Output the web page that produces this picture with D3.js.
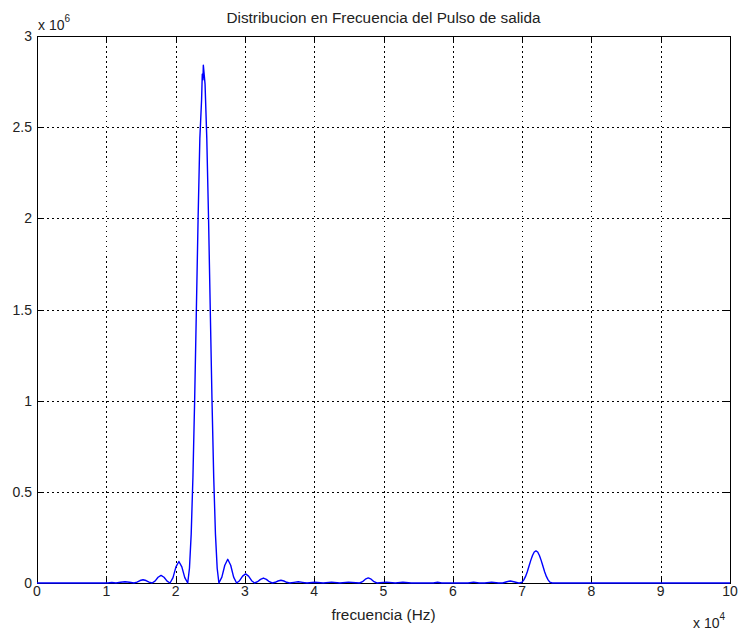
<!DOCTYPE html>
<html>
<head>
<meta charset="utf-8">
<title>Distribucion en Frecuencia del Pulso de salida</title>
<style>
  body { margin: 0; background: #fff; }
  svg { display: block; font-family: "Liberation Sans", Arial, sans-serif; }
  .grid line { stroke: #000; stroke-width: 1; stroke-dasharray: 1.5,3.5; shape-rendering: crispEdges; }
  .tick-in line { stroke: #000; stroke-width: 1; shape-rendering: crispEdges; }
  .tick-label { font-size: 14px; fill: #222; }
  .frame { fill: none; stroke: #000; stroke-width: 1; shape-rendering: crispEdges; }
  .curve { fill: none; stroke: #0000ff; stroke-width: 1.4; stroke-linejoin: round; }
</style>
</head>
<body>
<div id="chart"></div>
<script src="https://d3js.org/d3.v7.min.js"></script>
<script>
// frequency in units of 10^4 Hz, amplitude in units of 10^6
var freqs = [
  0, 1.02, 1.08, 1.14, 1.205, 1.27, 1.335, 1.40,
  1.443, 1.487, 1.53, 1.573, 1.617, 1.66,
  1.703, 1.747, 1.79, 1.833, 1.877, 1.92,
  1.9625, 2.005, 2.0475, 2.09, 2.1325, 2.175,
  2.2, 2.225, 2.25, 2.275, 2.3, 2.325, 2.35, 2.375, 2.385, 2.395, 2.4,
  2.425, 2.45, 2.475, 2.5, 2.525, 2.55, 2.575, 2.6, 2.625,
  2.6675, 2.71, 2.7525, 2.795, 2.8375, 2.88,
  2.923, 2.967, 3.01, 3.053, 3.097, 3.14,
  3.1825, 3.225, 3.2675, 3.31, 3.3525, 3.395,
  3.437, 3.478, 3.52, 3.562, 3.603, 3.645,
  3.708, 3.77, 3.832, 3.895,
  4.01, 4.13, 4.25, 4.37, 4.495, 4.655,
  4.697, 4.738, 4.78, 4.822, 4.863, 4.905,
  5.04, 5.17, 5.28, 5.40,
  5.72, 5.78, 5.84,
  6.22, 6.30, 6.38,
  6.46, 6.56, 6.66,
  6.72, 6.78, 6.83, 6.88, 6.95,
  6.965, 7.0, 7.025, 7.05, 7.075, 7.1, 7.125, 7.15, 7.175, 7.2,
  7.225, 7.25, 7.275, 7.3, 7.325, 7.35, 7.375, 7.4, 7.435,
  10
];
var amps = [
  0, 0, 0.003, 0, 0.004, 0.007, 0.004, 0,
  0.0045, 0.0135, 0.018, 0.0135, 0.0045, 0,
  0.0105, 0.0315, 0.042, 0.0315, 0.0105, 0,
  0.0295, 0.0885, 0.118, 0.0885, 0.0295, 0,
  0.081, 0.268, 0.58, 1.007, 1.503, 2.007, 2.44, 2.65, 2.79, 2.76, 2.84,
  2.736, 2.44, 2.007, 1.503, 1.007, 0.58, 0.268, 0.081, 0,
  0.0325, 0.0975, 0.13, 0.0975, 0.0325, 0,
  0.0125, 0.0375, 0.05, 0.0375, 0.0125, 0,
  0.007, 0.02, 0.027, 0.02, 0.007, 0,
  0.004, 0.011, 0.015, 0.011, 0.004, 0,
  0.0035, 0.007, 0.0035, 0,
  0.004, 0, 0.005, 0, 0.005, 0,
  0.007, 0.021, 0.028, 0.021, 0.007, 0,
  0.005, 0, 0.004, 0,
  0, 0.004, 0,
  0, 0.005, 0,
  0, 0.005, 0,
  0, 0.007, 0.011, 0.007, 0,
  0, 0.005, 0.017, 0.036, 0.062, 0.093, 0.124, 0.151, 0.170, 0.176,
  0.170, 0.151, 0.124, 0.093, 0.062, 0.036, 0.017, 0.005, 0,
  0
];
var xTicks = [0, 1, 2, 3, 4, 5, 6, 7, 8, 9, 10];
var yTicks = [0, 0.5, 1, 1.5, 2, 2.5, 3];
var yTickLabels = ["0", "0.5", "1", "1.5", "2", "2.5", "3"];

var W = 740, H = 634;
var margin = { top: 36, right: 10, bottom: 51, left: 37 };
var width = W - margin.left - margin.right;
var height = H - margin.top - margin.bottom;

var svg = d3.select("#chart").append("svg")
  .attr("width", W)
  .attr("height", H);

var g = svg.append("g")
  .attr("transform", "translate(" + margin.left + "," + margin.top + ")");

var x = d3.scaleLinear().domain([0, 10]).range([0, width]);
var y = d3.scaleLinear().domain([0, 3]).range([height, 0]);

// dotted grid
var grid = g.append("g").attr("class", "grid");
grid.selectAll(".vg")
  .data(xTicks.slice(1, -1))
  .enter().append("line")
  .attr("x1", function(d) { return Math.round(x(d)) + 0.5; })
  .attr("x2", function(d) { return Math.round(x(d)) + 0.5; })
  .attr("y1", 0).attr("y2", height);
grid.selectAll(".hg")
  .data(yTicks.slice(1, -1))
  .enter().append("line")
  .attr("y1", function(d) { return Math.round(y(d)) + 0.5; })
  .attr("y2", function(d) { return Math.round(y(d)) + 0.5; })
  .attr("x1", 0).attr("x2", width);

// inward ticks on all four sides
var tk = 7;
var ticks = g.append("g").attr("class", "tick-in");
xTicks.forEach(function(d) {
  var px = Math.round(x(d)) + 0.5;
  ticks.append("line").attr("x1", px).attr("x2", px).attr("y1", height).attr("y2", height - tk);
  ticks.append("line").attr("x1", px).attr("x2", px).attr("y1", 0).attr("y2", tk);
});
yTicks.forEach(function(d) {
  var py = Math.round(y(d)) + 0.5;
  ticks.append("line").attr("y1", py).attr("y2", py).attr("x1", 0).attr("x2", tk);
  ticks.append("line").attr("y1", py).attr("y2", py).attr("x1", width).attr("x2", width - tk);
});

// frame
g.append("rect").attr("class", "frame")
  .attr("x", 0.5).attr("y", 0.5)
  .attr("width", Math.round(width)).attr("height", Math.round(height));

// tick labels
g.selectAll(".xl")
  .data(xTicks)
  .enter().append("text")
  .attr("class", "tick-label")
  .attr("x", function(d) { return x(d); })
  .attr("y", height + 13)
  .attr("text-anchor", "middle")
  .text(function(d) { return d; });

g.selectAll(".yl")
  .data(yTicks)
  .enter().append("text")
  .attr("class", "tick-label")
  .attr("x", -5)
  .attr("y", function(d) { return y(d) + 5; })
  .attr("text-anchor", "end")
  .text(function(d, i) { return yTickLabels[i]; });

// exponent labels
var ey = g.append("text").attr("class", "tick-label").attr("x", 1).attr("y", -6);
ey.append("tspan").text("x 10");
ey.append("tspan").attr("dy", -8).attr("font-size", 10).text("6");

var ex = g.append("text").attr("class", "tick-label").attr("x", width - 37).attr("y", height + 45);
ex.append("tspan").text("x 10");
ex.append("tspan").attr("dy", -8).attr("font-size", 10).text("4");

// curve
var pts = freqs.map(function(f, i) { return [f, amps[i]]; });
var line = d3.line()
  .x(function(d) { return x(d[0]); })
  .y(function(d) { return y(d[1]); });
g.append("path").datum(pts).attr("class", "curve").attr("d", line);

// title and x label
svg.append("text")
  .attr("x", margin.left + width / 2)
  .attr("y", 23)
  .attr("text-anchor", "middle")
  .attr("font-size", 14)
  .attr("fill", "#222")
  .attr("textLength", 314)
  .attr("lengthAdjust", "spacingAndGlyphs")
  .text("Distribucion en Frecuencia del Pulso de salida");

svg.append("text")
  .attr("x", margin.left + width / 2)
  .attr("y", 620)
  .attr("text-anchor", "middle")
  .attr("font-size", 14)
  .attr("fill", "#222")
  .attr("textLength", 104)
  .attr("lengthAdjust", "spacingAndGlyphs")
  .text("frecuencia (Hz)");
</script>
</body>
</html>
